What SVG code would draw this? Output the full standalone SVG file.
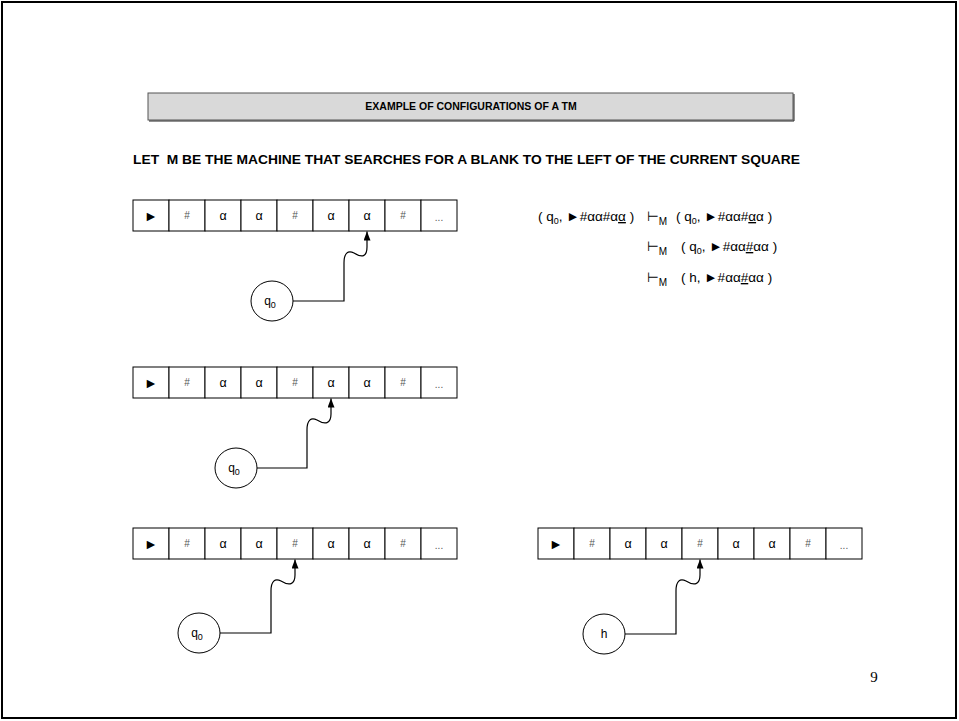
<svg xmlns="http://www.w3.org/2000/svg" xmlns:xlink="http://www.w3.org/1999/xlink" width="959" height="721" viewBox="0 0 959 721">
<style>
text{font-family:"Liberation Sans","DejaVu Sans",sans-serif;fill:#000}
.cell{fill:#fff;stroke:#000;stroke-width:1}
.sym{font-size:12.5px;text-anchor:middle}
.hash{font-size:10px;text-anchor:middle;fill:#555}
.tri{font-size:14px;text-anchor:middle}
.node{fill:#fff;stroke:#000;stroke-width:1}
.lbl{font-size:12px;text-anchor:middle}
.wire{fill:none;stroke:#000;stroke-width:1.2}
.f{font-size:13.5px}
.ul{text-decoration:underline;text-decoration-thickness:2px}
.title{font-size:10.5px;font-weight:bold;text-anchor:middle}
.sub{font-size:13px;font-weight:bold}
</style>
<defs>
<marker id="ah" markerUnits="userSpaceOnUse" markerWidth="10" markerHeight="8" refX="9" refY="3.5" orient="auto">
<path d="M0,0 L9,3.5 L0,7 z" fill="#000"/>
</marker>
<g id="tape">
<rect class="cell" x="0" y="0" width="36" height="31"/>
<rect class="cell" x="36" y="0" width="36" height="31"/>
<rect class="cell" x="72" y="0" width="36" height="31"/>
<rect class="cell" x="108" y="0" width="36" height="31"/>
<rect class="cell" x="144" y="0" width="36" height="31"/>
<rect class="cell" x="180" y="0" width="36" height="31"/>
<rect class="cell" x="216" y="0" width="36" height="31"/>
<rect class="cell" x="252" y="0" width="36" height="31"/>
<rect class="cell" x="288" y="0" width="36" height="31"/>
<text class="tri" x="18" y="20.5">►</text>
<text class="hash" x="54" y="19">#</text>
<text class="sym" x="90" y="20">α</text>
<text class="sym" x="126" y="20">α</text>
<text class="hash" x="162" y="19">#</text>
<text class="sym" x="198" y="20">α</text>
<text class="sym" x="234" y="20">α</text>
<text class="hash" x="270" y="19">#</text>
<text class="hash" x="306" y="21">...</text>
</g>
</defs>

<rect x="2" y="2" width="954" height="716" fill="#fff" stroke="#000" stroke-width="2"/>

<g id="title">
<rect x="148" y="93" width="645" height="27" fill="#d9d9d9" stroke="#555" stroke-width="1"/>
<path d="M794,94 V121 H149" fill="none" stroke="#222" stroke-width="1"/>
<text class="title" x="471" y="110">EXAMPLE OF CONFIGURATIONS OF A TM</text>
</g>

<text class="sub" x="133" y="164" textLength="667" lengthAdjust="spacingAndGlyphs" xml:space="preserve">LET  M BE THE MACHINE THAT SEARCHES FOR A BLANK TO THE LEFT OF THE CURRENT SQUARE</text>

<g id="tape1"><use xlink:href="#tape" href="#tape" x="133" y="200"/></g>
<g id="tape2"><use xlink:href="#tape" href="#tape" x="133" y="367"/></g>
<g id="tape3"><use xlink:href="#tape" href="#tape" x="133" y="528"/></g>
<g id="tape4"><use xlink:href="#tape" href="#tape" x="538" y="528"/></g>

<g id="state1"><ellipse class="node" cx="272" cy="301" rx="21" ry="20"/><text class="lbl" x="270" y="305">q<tspan font-size="9" dy="3">0</tspan></text></g>
<g id="state2"><ellipse class="node" cx="236" cy="468" rx="21" ry="20"/><text class="lbl" x="234" y="472">q<tspan font-size="9" dy="3">0</tspan></text></g>
<g id="state3"><ellipse class="node" cx="199" cy="633" rx="21" ry="20"/><text class="lbl" x="197" y="637">q<tspan font-size="9" dy="3">0</tspan></text></g>
<g id="state4"><ellipse class="node" cx="604" cy="634" rx="21" ry="20"/><text class="lbl" x="604" y="638">h</text></g>

<g id="connectors">
<path class="wire" marker-end="url(#ah)" d="M293,301 H344 V263 C344,253 348,250 354,253 C362,258 367,257 367,247 V231.5"/>
<path class="wire" marker-end="url(#ah)" d="M257,468 H307 V430 C307,420 311,417 317,420 C325,425 331,424 331,414 V398.5"/>
<path class="wire" marker-end="url(#ah)" d="M220,633 H271 V591 C271,581 275,578 281,581 C289,586 295,585 295,575 V559.5"/>
<path class="wire" marker-end="url(#ah)" d="M625,634 H676 V591 C676,581 680,578 686,581 C694,586 700,585 700,575 V559.5"/>
</g>

<g id="configs">
<text class="f" x="538" y="221" xml:space="preserve">( q<tspan font-size="9" dy="3">0</tspan><tspan dy="-3">, ►#αα#α</tspan><tspan class="ul">α</tspan> )</text>
<text class="f" x="647" y="221" font-size="15">⊢<tspan font-size="10" dy="4">M</tspan></text>
<text class="f" x="676" y="221" xml:space="preserve">( q<tspan font-size="9" dy="3">0</tspan><tspan dy="-3">, ►#αα#</tspan><tspan class="ul">α</tspan>α )</text>
<text class="f" x="647" y="251" font-size="15">⊢<tspan font-size="10" dy="4">M</tspan></text>
<text class="f" x="681" y="251" xml:space="preserve">( q<tspan font-size="9" dy="3">0</tspan><tspan dy="-3">, ►#αα</tspan><tspan class="ul">#</tspan>αα )</text>
<text class="f" x="647" y="282" font-size="15">⊢<tspan font-size="10" dy="4">M</tspan></text>
<text class="f" x="681" y="282" xml:space="preserve">( h, ►#αα<tspan class="ul">#</tspan>αα )</text>
</g>

<text x="874" y="682" font-size="15" text-anchor="middle" style="font-family:'Liberation Serif',serif">9</text>
</svg>
